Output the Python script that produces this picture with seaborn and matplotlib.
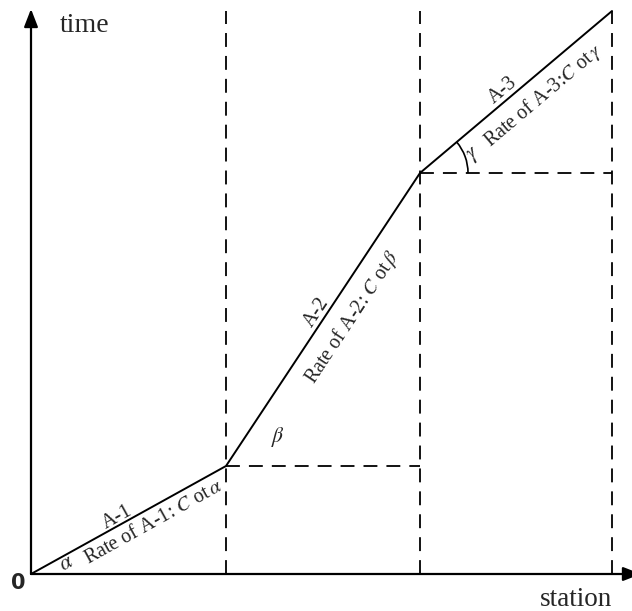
import matplotlib
matplotlib.use("Agg")
import matplotlib.pyplot as plt
import seaborn as sns
import pandas as pd
import numpy as np
from matplotlib.patches import Arc

# ---- data (pixel-like units: station distance, cumulative time) ----
stations = [0, 195, 389, 581]
times = [0, 108, 401, 563]
segment_names = ["A-1", "A-2", "A-3"]
rate_labels = [r"Rate of A-1: $C$ ot$\,\alpha$", r"Rate of A-2: $C$ ot$\,\beta$", r"Rate of A-3:$C$ ot$\,\gamma$"]
angle_labels = [r"$\alpha$", r"$\beta$", r"$\gamma$"]

df = pd.DataFrame({"station": stations, "time": times})

sns.set_theme(style="white")
plt.rcParams["font.family"] = ["Liberation Serif", "DejaVu Serif"]
plt.rcParams["mathtext.fontset"] = "stix"
plt.rcParams["lines.scale_dashes"] = False

fig = plt.figure(figsize=(6.32, 6.11), dpi=100)
ax = fig.add_axes([0, 0, 1, 1])
ax.set_xlim(-31, 601)
ax.set_ylim(-37, 574)
ax.axis("off")

# main polyline
sns.lineplot(data=df, x="station", y="time", ax=ax, color="black", lw=1.4, sort=False, estimator=None)

dash = (0, (10, 6.5))
top = times[-1]
# vertical dashed guides
ax.plot([stations[1], stations[1]], [0, top], color="black", lw=1.3, linestyle=dash)
ax.plot([stations[2], stations[2]], [0, top], color="black", lw=1.3, linestyle=dash)
ax.plot([stations[3], stations[3]], [0, top], color="black", lw=1.3, linestyle=dash)
# horizontal dashed guides
ax.plot([stations[1], stations[2]], [times[1], times[1]], color="black", lw=1.3, linestyle=dash)
ax.plot([stations[2], stations[3]], [times[2], times[2]], color="black", lw=1.3, linestyle=dash)

# axes with arrows
ax.annotate("", xy=(0, 565), xytext=(0, 0), annotation_clip=False,
            arrowprops=dict(arrowstyle="-|>,head_length=0.9,head_width=0.35", color="black", lw=1.6,
                            shrinkA=0, shrinkB=0))
ax.annotate("", xy=(610, 0), xytext=(0, 0), annotation_clip=False,
            arrowprops=dict(arrowstyle="-|>,head_length=0.9,head_width=0.35", color="black", lw=1.6,
                            shrinkA=0, shrinkB=0))

ax.text(29, 549, "time", fontsize=20, ha="left", va="center")
ax.text(545, -25, "station", fontsize=19.5, ha="center", va="center")
ax.text(-13, -9, "0", fontsize=15, fontweight="heavy", family="DejaVu Sans", ha="center", va="center")

# segment labels
ang = []
for i in range(3):
    dx = stations[i + 1] - stations[i]
    dy = times[i + 1] - times[i]
    ang.append(np.degrees(np.arctan2(dy, dx)))

fs = 14.5
ax.text(86, 57, segment_names[0], fontsize=fs, rotation=ang[0], rotation_mode="anchor", ha="center", va="center")
ax.text(123, 51, rate_labels[0], fontsize=fs, rotation=ang[0], rotation_mode="anchor", ha="center", va="center")
ax.text(36, 10, angle_labels[0], fontsize=fs + 1, rotation=ang[0], rotation_mode="anchor", ha="center", va="center")

ax.text(286, 262, segment_names[1], fontsize=fs, rotation=ang[1], rotation_mode="anchor", ha="center", va="center")
ax.text(321, 257, rate_labels[1], fontsize=fs, rotation=ang[1], rotation_mode="anchor", ha="center", va="center")
ax.text(247, 137, angle_labels[1], fontsize=fs + 1, ha="center", va="center")

ax.text(472, 484, segment_names[2], fontsize=fs, rotation=ang[2], rotation_mode="anchor", ha="center", va="center")
ax.text(512, 478, rate_labels[2], fontsize=fs, rotation=ang[2], rotation_mode="anchor", ha="center", va="center")
ax.text(443, 419, angle_labels[2], fontsize=fs + 1, rotation=ang[2], rotation_mode="anchor", ha="center", va="center")

arc = Arc((stations[2], times[2]), 96, 96, angle=0, theta1=0, theta2=ang[2], color="black", lw=1.2)
ax.add_patch(arc)

fig.savefig("out.png", dpi=100)
